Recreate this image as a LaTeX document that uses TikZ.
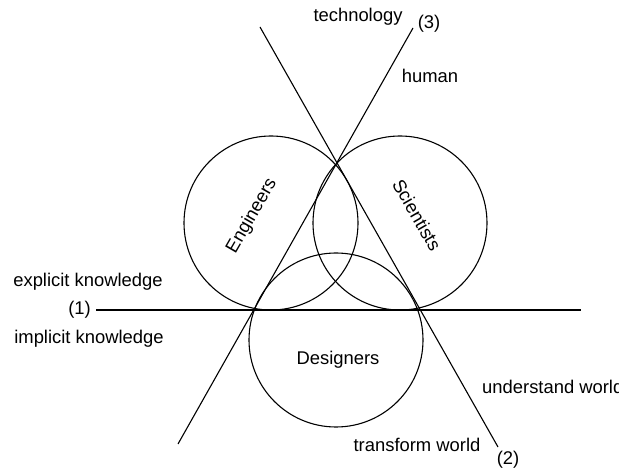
\documentclass[tikz,border=0pt]{standalone}
\usepackage{fontspec}
\setmainfont{Liberation Sans}
\begin{document}
\begin{tikzpicture}[x=1pt,y=-1pt,
  every node/.style={font=\fontsize{18.4}{21}\selectfont, inner sep=0pt},
  group/.style={circle, draw, line width=1.1pt, minimum size=174pt, inner sep=0pt},
  axis/.style={line width=1.1pt},
  lbl/.style={}]
\useasboundingbox (0,0) rectangle (619,470);
% circles
\node[group] (eng) at (271,223) {};
\node[group] (sci) at (400,223) {};
\node[group] (des) at (336,340) {};
% circle labels
\node[lbl, rotate=60] (engl) at (252,216) {Engineers};
\node[lbl, rotate=-60] (scil) at (417,215) {Scientists};
\node[lbl] (desl) at (338,360) {Designers};
% axis end points
\coordinate (h2) at (581,310);
\coordinate (t3a) at (178,444);
\coordinate (t3b) at (413,28);
\coordinate (t2a) at (260,27);
\coordinate (t2b) at (498,447);
% axis labels
\node[lbl, anchor=east] (n1) at (91,310) {(1)};
\node[lbl] (n3) at (429,24) {(3)};
\node[lbl] (n2) at (508,460) {(2)};
\node[lbl] (expl) at (88,282) {explicit knowledge};
\node[lbl] (impl) at (89,339) {implicit knowledge};
\node[lbl] (tech) at (358,17) {technology};
\node[lbl] (hum) at (430,76) {human};
\node[lbl, anchor=west] (und) at (482,387) {understand world};
\node[lbl] (trans) at (417,445) {transform world};
% axes
\draw[axis] (n1.east) ++(5,0) coordinate (h1) -- (h2);
\draw[axis] (t3a) -- (t3b);
\draw[axis] (t2a) -- (t2b);
\end{tikzpicture}
\end{document}
